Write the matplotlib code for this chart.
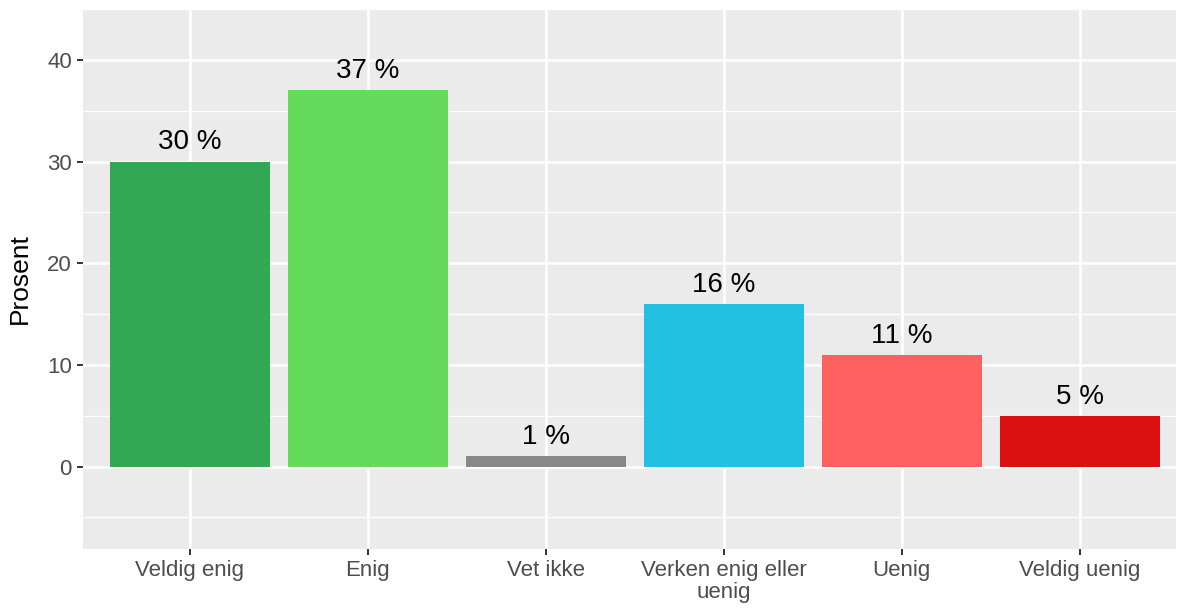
import numpy as np
import matplotlib
matplotlib.use("Agg")
import matplotlib.pyplot as plt
from matplotlib.ticker import MultipleLocator

categories = ["Veldig enig", "Enig", "Vet ikke", "Verken enig eller\nuenig", "Uenig", "Veldig uenig"]
values = [30, 37, 1, 16, 11, 5]
colors = ["#33A853", "#66DA5A", "#888888", "#22C1E1", "#FF6161", "#DC1010"]

plt.rcParams["font.family"] = ["Liberation Sans", "DejaVu Sans"]

fig = plt.figure(figsize=(11.84, 6.08), dpi=100)
ax = fig.add_axes([83 / 1184, 1 - 549 / 608, (1176 - 83) / 1184, (549 - 9) / 608])
ax.set_facecolor("#EBEBEB")

x = np.arange(1, len(categories) + 1)
ax.bar(x, values, width=0.9, color=colors, zorder=3)
for xi, v in zip(x, values):
    ax.text(xi, v + 0.6, f"{v} %", ha="center", va="bottom", fontsize=20, color="black", zorder=4)

ax.set_xlim(0.4, 6.54)
ax.set_ylim(-8.1, 45.0)
ax.set_xticks(x)
ax.set_xticklabels(categories, linespacing=1.05)
ax.yaxis.set_major_locator(MultipleLocator(10))
ax.yaxis.set_minor_locator(MultipleLocator(5))
ax.set_yticks([0, 10, 20, 30, 40])

ax.grid(which="major", color="white", linewidth=1.8, zorder=1)
ax.grid(which="minor", axis="y", color="white", linewidth=0.9, zorder=1)
ax.set_axisbelow(True)
for s in ax.spines.values():
    s.set_visible(False)

ax.tick_params(axis="both", which="major", length=4, width=1.4, color="#333333",
               labelcolor="#4D4D4D", labelsize=16, pad=4)
ax.tick_params(axis="y", which="minor", length=0)
ax.set_ylabel("Prosent", fontsize=19, color="black", labelpad=11)

fig.savefig("out.png", dpi=100)
